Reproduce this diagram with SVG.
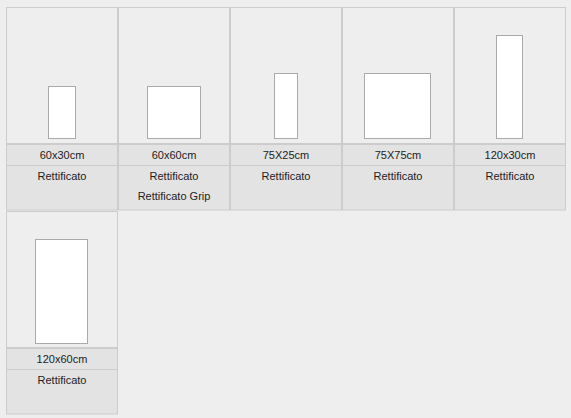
<svg xmlns="http://www.w3.org/2000/svg" width="571" height="418" viewBox="0 0 571 418">
<style>
.bg{fill:#eeeeee}
.top{fill:#eeeeee;stroke:#cccccc;stroke-width:1}
.low{fill:#e3e3e3;stroke:#cccccc;stroke-width:1}
.tile{fill:#ffffff;stroke:#aaaaaa;stroke-width:1}
.t{font-family:"Liberation Sans",Arial,sans-serif;font-size:11px;fill:#222222;text-anchor:middle}
</style>
<rect class="bg" x="0" y="0" width="571" height="418"/>
<g id="card-60x30">
<rect class="low" x="6.5" y="144.5" width="111" height="65.5"/>
<line x1="6" y1="165.5" x2="118" y2="165.5" stroke="#cccccc"/>
<rect class="top" x="6.5" y="7.5" width="111" height="136"/>
<rect class="tile" x="48.5" y="86.5" width="27" height="52"/>
<text class="t" x="62" y="159">60x30cm</text>
<text class="t" x="62" y="180">Rettificato</text>
</g>
<g id="card-60x60">
<rect class="low" x="118.5" y="144.5" width="111" height="65.5"/>
<line x1="118" y1="165.5" x2="230" y2="165.5" stroke="#cccccc"/>
<rect class="top" x="118.5" y="7.5" width="111" height="136"/>
<rect class="tile" x="147.5" y="86.5" width="53" height="52"/>
<text class="t" x="174" y="159">60x60cm</text>
<text class="t" x="174" y="180">Rettificato</text>
<text class="t" x="174" y="200">Rettificato Grip</text>
</g>
<g id="card-75x25">
<rect class="low" x="230.5" y="144.5" width="111" height="65.5"/>
<line x1="230" y1="165.5" x2="342" y2="165.5" stroke="#cccccc"/>
<rect class="top" x="230.5" y="7.5" width="111" height="136"/>
<rect class="tile" x="274.5" y="73.5" width="23" height="65"/>
<text class="t" x="286" y="159">75X25cm</text>
<text class="t" x="286" y="180">Rettificato</text>
</g>
<g id="card-75x75">
<rect class="low" x="342.5" y="144.5" width="111" height="65.5"/>
<line x1="342" y1="165.5" x2="454" y2="165.5" stroke="#cccccc"/>
<rect class="top" x="342.5" y="7.5" width="111" height="136"/>
<rect class="tile" x="364.5" y="73.5" width="66" height="65"/>
<text class="t" x="398" y="159">75X75cm</text>
<text class="t" x="398" y="180">Rettificato</text>
</g>
<g id="card-120x30">
<rect class="low" x="454.5" y="144.5" width="111" height="65.5"/>
<line x1="454" y1="165.5" x2="566" y2="165.5" stroke="#cccccc"/>
<rect class="top" x="454.5" y="7.5" width="111" height="136"/>
<rect class="tile" x="496.5" y="35.5" width="26" height="103"/>
<text class="t" x="510" y="159">120x30cm</text>
<text class="t" x="510" y="180">Rettificato</text>
</g>
<g id="card-120x60">
<rect class="low" x="6.5" y="348.5" width="111" height="65.5"/>
<line x1="6" y1="369.5" x2="118" y2="369.5" stroke="#cccccc"/>
<rect class="top" x="6.5" y="211.5" width="111" height="136"/>
<rect class="tile" x="35.5" y="239.5" width="52" height="104"/>
<text class="t" x="62" y="363">120x60cm</text>
<text class="t" x="62" y="384">Rettificato</text>
</g>
<g id="connectors"></g>
</svg>
